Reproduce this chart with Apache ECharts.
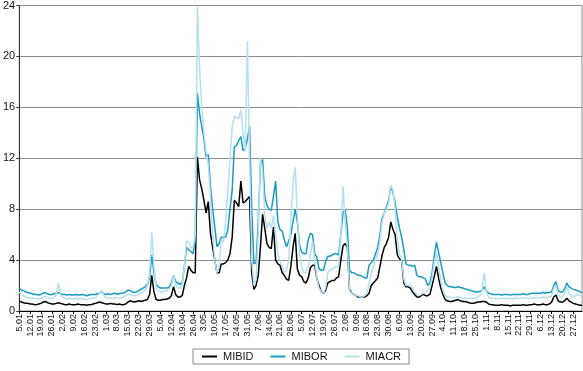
<!DOCTYPE html>
<html>
<head>
<meta charset="utf-8">
<script src="https://cdn.jsdelivr.net/npm/echarts@6/dist/echarts.min.js"></script>
<style>
html,body{margin:0;padding:0;background:#fff;}
#c{width:583px;height:371px;}
</style>
</head>
<body>
<div id="c"></div>
<script>
// Week start labels (Mondays), five business days per week
var weekLabels = ["5.01","12.01","19.01","26.01","2.02","9.02","16.02","23.02","1.03","8.03","15.03","22.03","29.03","5.04","12.04","19.04","26.04","3.05","10.05","17.05","24.05","31.05","7.06","14.06","21.06","28.06","5.07","12.07","19.07","26.07","2.08","9.08","16.08","23.08","30.08","6.09","13.09","20.09","27.09","4.10","11.10","18.10","25.10","1.11","8.11","15.11","22.11","29.11","6.12","13.12","20.12","27.12"];

var yTicks = [0, 4, 8, 12, 16, 20, 24];

var mibid = [
0.8,0.7,0.65,0.6,0.6, 0.55,0.55,0.5,0.5,0.55, 0.6,0.7,0.75,0.65,0.6, 0.55,0.55,0.6,0.65,0.6,
0.55,0.5,0.5,0.55,0.5, 0.5,0.5,0.55,0.5,0.5, 0.5,0.45,0.5,0.5,0.55, 0.6,0.65,0.7,0.65,0.6,
0.55,0.55,0.6,0.55,0.55, 0.5,0.55,0.5,0.5,0.55, 0.7,0.8,0.75,0.7,0.75, 0.8,0.75,0.8,0.85,0.9,
1.3,2.8,1.5,0.9,0.85, 0.85,0.9,0.9,0.95,1.0, 1.2,1.9,1.3,1.1,1.1, 1.2,2.0,2.6,3.5,3.2,
3.0,3.0,12.1,10.3,9.6, 8.7,7.7,8.6,6.1,5.0, 4.0,3.0,3.0,3.7,3.7, 3.8,4.0,4.5,5.8,8.7,
8.5,8.2,10.2,8.5,8.6, 8.8,9.0,3.0,1.7,2.0, 2.8,5.0,7.6,6.5,5.3, 5.0,4.9,6.6,4.0,3.7,
3.6,3.0,2.8,2.5,2.4, 3.5,5.0,6.1,3.3,2.8, 2.7,2.3,2.2,2.6,3.4, 3.6,3.6,2.5,2.0,1.5,
1.4,1.6,2.2,2.3,2.4, 2.4,2.6,2.7,4.0,5.1, 5.3,5.0,1.7,1.4,1.3, 1.2,1.1,1.1,1.1,1.1,
1.2,1.4,2.0,2.2,2.4, 2.6,3.5,4.4,5.0,5.3, 5.8,7.0,6.4,6.0,4.4, 4.1,4.0,2.2,1.9,1.9,
1.8,1.5,1.3,1.1,1.1, 1.2,1.3,1.2,1.2,1.3, 2.0,2.7,3.5,2.6,1.8, 1.3,0.9,0.8,0.75,0.75,
0.8,0.85,0.9,0.8,0.75, 0.75,0.7,0.65,0.6,0.6, 0.65,0.7,0.7,0.75,0.75, 0.7,0.55,0.5,0.5,0.45,
0.45,0.45,0.5,0.45,0.45, 0.45,0.4,0.45,0.45,0.45, 0.45,0.45,0.5,0.45,0.45, 0.5,0.5,0.55,0.5,0.5,
0.5,0.55,0.5,0.5,0.55, 0.7,1.1,1.25,0.8,0.7, 0.7,0.8,1.0,0.8,0.7, 0.6,0.55,0.5,0.45,0.45
];

var mibor = [
1.8,1.65,1.6,1.5,1.45, 1.4,1.35,1.3,1.3,1.25, 1.3,1.4,1.45,1.35,1.3, 1.3,1.35,1.4,1.45,1.35,
1.3,1.3,1.25,1.3,1.25, 1.25,1.3,1.25,1.25,1.3, 1.25,1.2,1.25,1.3,1.3, 1.3,1.35,1.4,1.5,1.35,
1.3,1.35,1.3,1.35,1.4, 1.3,1.35,1.4,1.4,1.5, 1.65,1.6,1.5,1.45,1.5, 1.6,1.7,1.8,1.9,2.1,
2.6,4.4,3.0,2.1,1.9, 1.8,1.8,1.8,1.8,1.9, 2.2,2.8,2.3,2.2,2.1, 2.2,3.5,5.0,4.8,4.7,
4.5,5.5,17.1,15.5,14.5, 13.5,12.1,12.3,9.8,8.0, 6.6,5.05,5.3,5.8,5.8, 5.8,6.4,8.0,9.5,12.9,
13.0,13.4,13.7,12.6,12.8, 13.5,14.5,8.0,3.7,3.8, 7.0,11.6,11.9,9.0,8.3, 8.0,7.9,9.0,10.2,7.0,
6.4,6.3,5.6,5.05,5.5, 6.0,7.0,8.0,7.0,5.2, 4.6,4.5,4.5,5.6,6.1, 6.0,4.5,4.2,3.3,3.2,
3.2,3.9,4.3,4.3,4.4, 4.5,4.5,4.4,6.0,7.7, 8.0,6.5,3.2,3.0,3.0, 2.9,2.8,2.8,2.7,2.6,
2.6,3.6,3.8,4.0,4.5, 5.0,6.0,7.3,7.7,8.2, 8.7,9.8,9.3,8.5,7.4, 6.5,5.8,4.8,3.7,3.6,
3.6,3.5,3.6,2.8,2.7, 2.7,2.6,2.5,2.0,2.2, 3.0,4.3,5.4,4.6,3.8, 3.0,2.2,2.0,1.9,1.9,
1.85,1.85,1.9,1.85,1.8, 1.75,1.7,1.65,1.6,1.55, 1.5,1.5,1.55,1.6,1.9, 1.6,1.4,1.35,1.3,1.3,
1.3,1.3,1.25,1.3,1.3, 1.3,1.25,1.3,1.3,1.3, 1.3,1.3,1.35,1.3,1.3, 1.35,1.4,1.4,1.4,1.4,
1.4,1.45,1.4,1.45,1.45, 1.5,2.0,2.3,1.6,1.5, 1.5,1.7,2.2,1.9,1.8, 1.7,1.65,1.6,1.5,1.5
];

var miacr = [
1.5,1.3,1.2,1.1,1.05, 1.0,1.0,1.0,0.95,0.95, 1.0,1.1,1.15,1.05,1.0, 1.0,1.05,1.3,2.2,1.3,
1.05,1.0,0.95,1.0,0.95, 0.95,1.0,0.95,0.95,1.0, 0.95,0.9,0.95,1.0,1.0, 1.05,1.2,1.4,1.6,1.2,
1.05,1.0,1.05,1.0,1.05, 1.0,1.05,1.05,1.1,1.2, 1.3,1.3,1.25,1.2,1.2, 1.3,1.4,1.5,1.6,2.0,
3.0,6.2,3.5,1.8,1.6, 1.5,1.5,1.6,1.6,1.7, 2.0,2.8,2.0,1.8,1.8, 2.0,3.5,5.5,5.4,5.0,
5.0,6.0,23.9,19.0,16.0, 14.0,12.5,11.5,9.0,6.0, 4.0,3.0,3.5,5.6,5.4, 7.0,9.5,12.0,14.5,15.3,
15.2,15.1,15.8,14.0,12.5, 21.2,12.0,4.0,2.0,2.5, 6.0,12.0,11.0,7.5,6.5, 7.0,6.5,7.5,6.0,4.5,
4.0,3.5,3.0,3.2,4.0, 7.0,10.0,11.3,7.5,4.5, 3.5,3.0,3.0,3.5,4.5, 5.5,4.0,2.5,1.8,1.5,
1.4,1.8,3.0,3.2,3.3, 3.4,3.5,3.5,6.0,9.8, 7.0,5.0,1.6,1.4,1.3, 1.2,1.2,1.1,1.1,1.2,
1.4,2.2,3.0,3.5,4.0, 4.5,5.5,7.0,7.7,8.0, 8.5,9.9,9.5,8.0,5.6, 4.5,4.0,2.5,2.0,2.0,
2.0,1.8,1.5,1.3,1.2, 1.3,1.4,1.5,1.6,1.8, 2.6,3.8,4.6,3.5,2.4, 1.6,1.2,1.1,1.1,1.05,
1.05,1.1,1.1,1.05,1.0, 1.0,1.0,1.0,1.0,1.0, 1.0,1.1,1.2,1.6,3.0, 1.5,1.1,1.0,1.0,1.0,
0.95,1.0,1.0,1.0,0.95, 1.0,1.0,0.95,1.0,1.0, 1.0,1.0,1.05,1.0,1.0, 1.0,1.05,1.05,1.0,1.05,
1.05,1.1,1.05,1.1,1.1, 1.2,1.8,2.0,1.3,1.1, 1.1,1.4,1.9,1.4,1.2, 1.1,1.2,1.3,1.2,1.2
];

var seriesNames = ["MIBID", "MIBOR", "MIACR"];

// category per business day: Monday carries the week label
var categories = [];
weekLabels.forEach(function (w) {
  for (var d = 0; d < 5; d++) categories.push(d === 0 ? w : w + "/" + d);
});

var chart = echarts.init(document.getElementById('c'), null, {renderer: 'canvas'});
var font = '"Liberation Sans", Arial, sans-serif';
chart.setOption({
  animation: false,
  backgroundColor: '#fff',
  grid: {left: 17, right: 1, top: 5, bottom: 60, show: true, borderColor: '#8c8c8c', borderWidth: 1, backgroundColor: 'transparent'},
  legend: {
    data: seriesNames,
    left: 193, top: 349,
    width: 210,
    orient: 'horizontal',
    icon: 'rect', itemWidth: 15, itemHeight: 2, itemGap: 17,
    padding: [2, 8, 2, 9],
    borderColor: '#888', borderWidth: 1,
    textStyle: {fontFamily: font, fontSize: 11, color: '#111', padding: [0, 0, 0, 1]}
  },
  xAxis: {
    type: 'category', data: categories, boundaryGap: false,
    axisLine: {lineStyle: {color: '#000', width: 1}},
    axisTick: {show: true, interval: 4, length: 3, lineStyle: {color: '#000'}},
    axisLabel: {
      interval: 4, rotate: 90, margin: 3, fontFamily: font, fontSize: 9, color: '#111',
      formatter: function (v) { return v.indexOf('/') < 0 ? v : ''; }
    },
    splitLine: {show: false}
  },
  yAxis: {
    type: 'value', min: yTicks[0], max: yTicks[yTicks.length - 1], interval: 4,
    axisLine: {show: true, lineStyle: {color: '#333', width: 1}},
    axisTick: {show: true, length: 3, lineStyle: {color: '#333'}},
    axisLabel: {margin: 4, fontFamily: font, fontSize: 11, color: '#111'},
    splitLine: {show: true, lineStyle: {color: '#8c8c8c', width: 1}}
  },
  series: [
    {name: seriesNames[0], type: 'line', data: mibid, showSymbol: false, symbol: 'none', lineStyle: {color: '#000', width: 1.5}, itemStyle: {color: '#000'}, z: 3},
    {name: seriesNames[1], type: 'line', data: mibor, showSymbol: false, symbol: 'none', lineStyle: {color: '#1a9cc0', width: 1.5}, itemStyle: {color: '#1a9cc0'}, z: 4},
    {name: seriesNames[2], type: 'line', data: miacr, showSymbol: false, symbol: 'none', lineStyle: {color: '#b5e0ee', width: 1.5}, itemStyle: {color: '#b5e0ee'}, z: 5}
  ]
});
</script>
</body>
</html>
